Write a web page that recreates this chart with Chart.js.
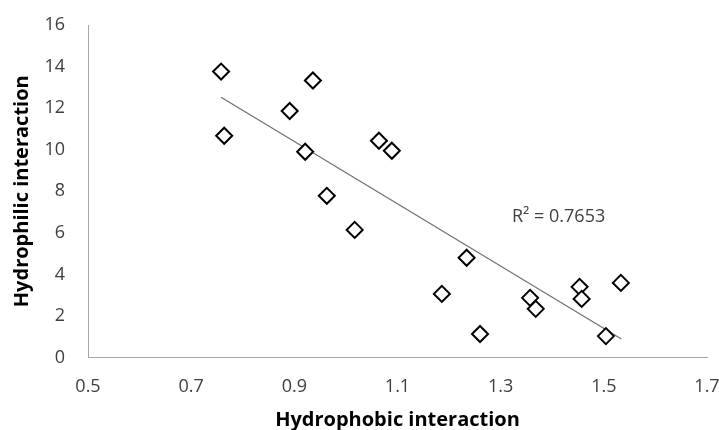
<!DOCTYPE html>
<html>
<head>
<meta charset="utf-8">
<script src="https://cdn.jsdelivr.net/npm/chart.js@4"></script>
<style>
    html, body { margin: 0; padding: 0; background: #ffffff; }
    #wrap { width: 719px; height: 430px; }
</style>
</head>
<body>
<div id="wrap"><canvas id="scatterChart" width="719" height="430"></canvas></div>
<script>
// Hydrophobic (x) vs hydrophilic (y) interaction
const hydrophobic = [0.758, 0.764, 0.936, 0.891, 0.921, 0.963, 1.017, 1.064, 1.089,
    1.234, 1.186, 1.260, 1.357, 1.368, 1.453, 1.457, 1.533, 1.504];
const hydrophilic = [13.76, 10.67, 13.33, 11.86, 9.90, 7.78, 6.14, 10.43, 9.95,
    4.80, 3.06, 1.13, 2.87, 2.34, 3.40, 2.82, 3.59, 1.03];

// linear trendline end points
const trendX = [0.758, 1.534];
const trendY = [12.52, 0.89];
const rSquared = "R² = 0.7653";

const xTicks = [0.5, 0.7, 0.9, 1.1, 1.3, 1.5, 1.7];
const yTicks = [0, 2, 4, 6, 8, 10, 12, 14, 16];

const FONT = "'Open Sans', Lato, sans-serif";
const TEXT_COLOR = "#404040";
const AXIS_COLOR = "#a6a6a6";

const points = hydrophobic.map((x, i) => ({ x: x, y: hydrophilic[i] }));
const trend = trendX.map((x, i) => ({ x: x, y: trendY[i] }));

// R² label, just under the trend line like Excel puts it
const r2Label = {
    id: "r2Label",
    afterDatasetsDraw(chart) {
        const ctx = chart.ctx;
        const xs = chart.scales.x;
        const ys = chart.scales.y;
        ctx.save();
        ctx.font = "18px " + FONT;
        ctx.fillStyle = TEXT_COLOR;
        ctx.textAlign = "left";
        ctx.textBaseline = "alphabetic";
        ctx.fillText(rSquared, xs.getPixelForValue(1.322), ys.getPixelForValue(6.53));
        ctx.restore();
    }
};

const ctx = document.getElementById("scatterChart").getContext("2d");

new Chart(ctx, {
    type: "scatter",
    data: {
        datasets: [
            {
                label: "Trend",
                type: "line",
                data: trend,
                borderColor: "#707070",
                borderWidth: 1.2,
                pointRadius: 0,
                fill: false,
                order: 2
            },
            {
                label: "Samples",
                data: points,
                pointStyle: "rectRot",
                pointRadius: 8,
                pointHoverRadius: 8,
                pointBorderWidth: 2,
                pointBorderColor: "#000000",
                pointBackgroundColor: "#ffffff",
                order: 1
            }
        ]
    },
    options: {
        responsive: false,
        animation: false,
        layout: {
            padding: { left: 0, top: 25, right: 12, bottom: 0 }
        },
        plugins: {
            legend: { display: false },
            tooltip: { enabled: false }
        },
        scales: {
            x: {
                type: "linear",
                min: 0.5,
                max: 1.7,
                afterBuildTicks: (scale) => {
                    scale.ticks = xTicks.map(v => ({ value: v }));
                },
                afterFit: (scale) => {
                    // fixed band under the plot, no extra side padding for labels
                    scale.height = 72.5;
                    scale.paddingLeft = 0;
                    scale.paddingRight = 0;
                },
                grid: { display: false, drawTicks: false },
                border: { color: AXIS_COLOR, width: 1 },
                ticks: {
                    padding: 19,
                    color: TEXT_COLOR,
                    font: { family: FONT, size: 18 },
                    maxRotation: 0,
                    callback: (v) => v.toFixed(1)
                },
                title: {
                    display: true,
                    text: "Hydrophobic interaction",
                    color: "#000000",
                    font: { family: FONT, size: 20, weight: "bold" },
                    padding: { top: 0, bottom: -2 }
                }
            },
            y: {
                type: "linear",
                min: 0,
                max: 16,
                afterBuildTicks: (scale) => {
                    scale.ticks = yTicks.map(v => ({ value: v }));
                },
                afterFit: (scale) => {
                    scale.width = 88;
                    scale.paddingTop = 0;
                    scale.paddingBottom = 0;
                },
                grid: { display: false, drawTicks: false },
                border: { color: AXIS_COLOR, width: 1 },
                ticks: {
                    padding: 23,
                    color: TEXT_COLOR,
                    font: { family: FONT, size: 18 }
                },
                title: {
                    display: true,
                    text: "Hydrophilic interaction",
                    color: "#000000",
                    font: { family: FONT, size: 20, weight: "bold" },
                    padding: { top: 10, bottom: 0 }
                }
            }
        }
    },
    plugins: [r2Label]
});
</script>
</body>
</html>
